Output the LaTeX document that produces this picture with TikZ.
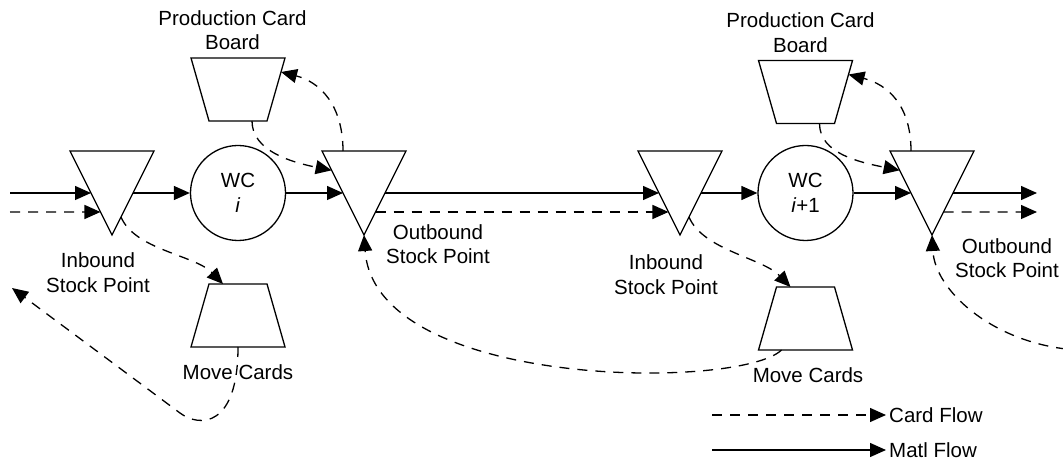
\documentclass[tikz,border=0pt]{standalone}
\usepackage{fontspec}
\setmainfont{Liberation Sans}
\usetikzlibrary{arrows.meta,calc}

\begin{document}
\begin{tikzpicture}[x=1pt, y=-1pt, >={Triangle[length=16pt,width=14pt]},
  lbl/.style={font=\fontsize{20.5}{24.5}\selectfont, align=center, inner sep=0pt},
  outline/.style={line width=1.3pt},
  stockpt/.style={minimum width=84pt, minimum height=84pt, inner sep=0pt, outer sep=0pt},
  cardbox/.style={minimum width=94pt, minimum height=63pt, inner sep=0pt, outer sep=0pt},
  wc/.style={circle, draw, line width=1.3pt, minimum size=95pt, lbl},
  matl/.style={->, line width=1.3pt},
  card/.style={->, line width=1.3pt, dash pattern=on 10pt off 8pt}]
  \useasboundingbox (0,0) rectangle (1063,462);

  % Stock points (upside-down triangles)
  \node[stockpt] (in1) at (112,193) {};
  \node[stockpt] (out1) at (364,193) {};
  \node[stockpt] (in2) at (680,193) {};
  \node[stockpt] (out2) at (932,193) {};
  \foreach \n in {in1,out1,in2,out2}
    \draw[outline] (\n.north west) -- (\n.north east) -- (\n.south) -- cycle;

  % Work centres
  \node[wc] (wc1) at (238,193) {WC\\\textit{i}};
  \node[wc] (wc2) at (805.5,193) {WC\\\textit{i}+1};

  % Production card boards (wide side up)
  \node[cardbox] (pcb1) at (238,89.5) {};
  \node[cardbox] (pcb2) at (805.5,92) {};
  \foreach \n in {pcb1,pcb2}
    \draw[outline] (\n.north west) -- (\n.north east) -- ($(\n.south east)+(-18,0)$)
      -- ($(\n.south west)+(18,0)$) -- cycle;

  % Move card posts (narrow side up)
  \node[cardbox] (mv1) at (238,315.5) {};
  \node[cardbox] (mv2) at (805.5,318.5) {};
  \foreach \n in {mv1,mv2}
    \draw[outline] ($(\n.north west)+(18,0)$) -- ($(\n.north east)+(-18,0)$)
      -- (\n.south east) -- (\n.south west) -- cycle;

  % Labels
  \node[lbl] (pcb1lbl) at (232.5,30) {Production Card\\Board};
  \node[lbl] (pcb2lbl) at (800.5,32.5) {Production Card\\Board};
  \node[lbl] (in1lbl) at (98,272.5) {Inbound\\Stock Point};
  \node[lbl] (in2lbl) at (666,274.5) {Inbound\\Stock Point};
  \node[lbl] (out1lbl) at (438,244) {Outbound\\Stock Point};
  \node[lbl] (out2lbl) at (1007,258) {Outbound\\Stock Point};
  \node[lbl] (mv1lbl) at (238,372) {Move Cards};
  \node[lbl] (mv2lbl) at (808,375) {Move Cards};

  % Material flow
  \coordinate (matlin) at (10,193);
  \coordinate (matlout) at (1037,193);
  \draw[matl] (matlin) -- ($(in1.north west)!0.5!(in1.south)$);
  \draw[matl] ($(in1.north east)!0.5!(in1.south)$) -- (wc1);
  \draw[matl] (wc1) -- ($(out1.north west)!0.5!(out1.south)$);
  \draw[matl] ($(out1.north east)!0.5!(out1.south)$) -- ($(in2.north west)!0.5!(in2.south)$);
  \draw[matl] ($(in2.north east)!0.5!(in2.south)$) -- (wc2);
  \draw[matl] (wc2) -- ($(out2.north west)!0.5!(out2.south)$);
  \draw[matl] ($(out2.north east)!0.5!(out2.south)$) -- (matlout);

  % Card flow along the line
  \coordinate (cardin) at (10,212);
  \coordinate (cardout) at (1037,212);
  \draw[card] (cardin) -- ($(in1.north west)!0.726!(in1.south)$);
  \draw[card] ($(out1.north east)!0.726!(out1.south)$) -- ($(in2.north west)!0.726!(in2.south)$);
  \draw[card] ($(out2.north east)!0.726!(out2.south)$) -- (cardout);

  % Inbound stock point to move cards
  \draw[card] ($(in1.north east)!0.786!(in1.south)$) .. controls +(14,33) and +(-28,-29) .. ($(mv1.north)+(-15,0)$);
  \draw[card] ($(in2.north east)!0.786!(in2.south)$) .. controls +(14,33) and +(-28,-29) .. ($(mv2.north)+(-15,0)$);

  % Production card board and outbound stock point
  \draw[card] ($(pcb1.south)+(14,0)$) .. controls +(0,30) and +(-40,-8) .. ($(out1.north west)!0.23!(out1.south)$);
  \draw[card] ($(out1.north west)!0.25!(out1.north east)$) .. controls +(0,-46) and +(39,10) .. ($(pcb1.north east)+(-4,14)$);
  \draw[card] ($(pcb2.south)+(14,0)$) .. controls +(0,30) and +(-40,-8) .. ($(out2.north west)!0.23!(out2.south)$);
  \draw[card] ($(out2.north west)!0.25!(out2.north east)$) .. controls +(0,-46) and +(39,10) .. ($(pcb2.north east)+(-4,14)$);

  % Move cards back to the upstream outbound stock point
  \coordinate (mvprev) at (12,288);
  \coordinate (mvnext) at (1066,349);
  \draw[card] (mv1.south) .. controls +(0,80) and +(20,15) .. (180,413) -- (mvprev);
  \draw[card] ($(mv2.south)+(-24,0)$) .. controls +(-41,40) and +(11,155) .. (out1.south);
  \draw[card] (mvnext) .. controls +(-76,-9) and +(3,55) .. (out2.south);

  % Legend
  \node[lbl, anchor=west, inner xsep=3pt] (cardkey) at (886,415) {Card Flow};
  \node[lbl, anchor=west, inner xsep=3pt] (matlkey) at (886,450) {Matl Flow};
  \coordinate (cardkeyin) at (712,415);
  \coordinate (matlkeyin) at (712,450);
  \draw[card] (cardkeyin) -- (cardkey);
  \draw[matl] (matlkeyin) -- (matlkey);
\end{tikzpicture}
\end{document}
